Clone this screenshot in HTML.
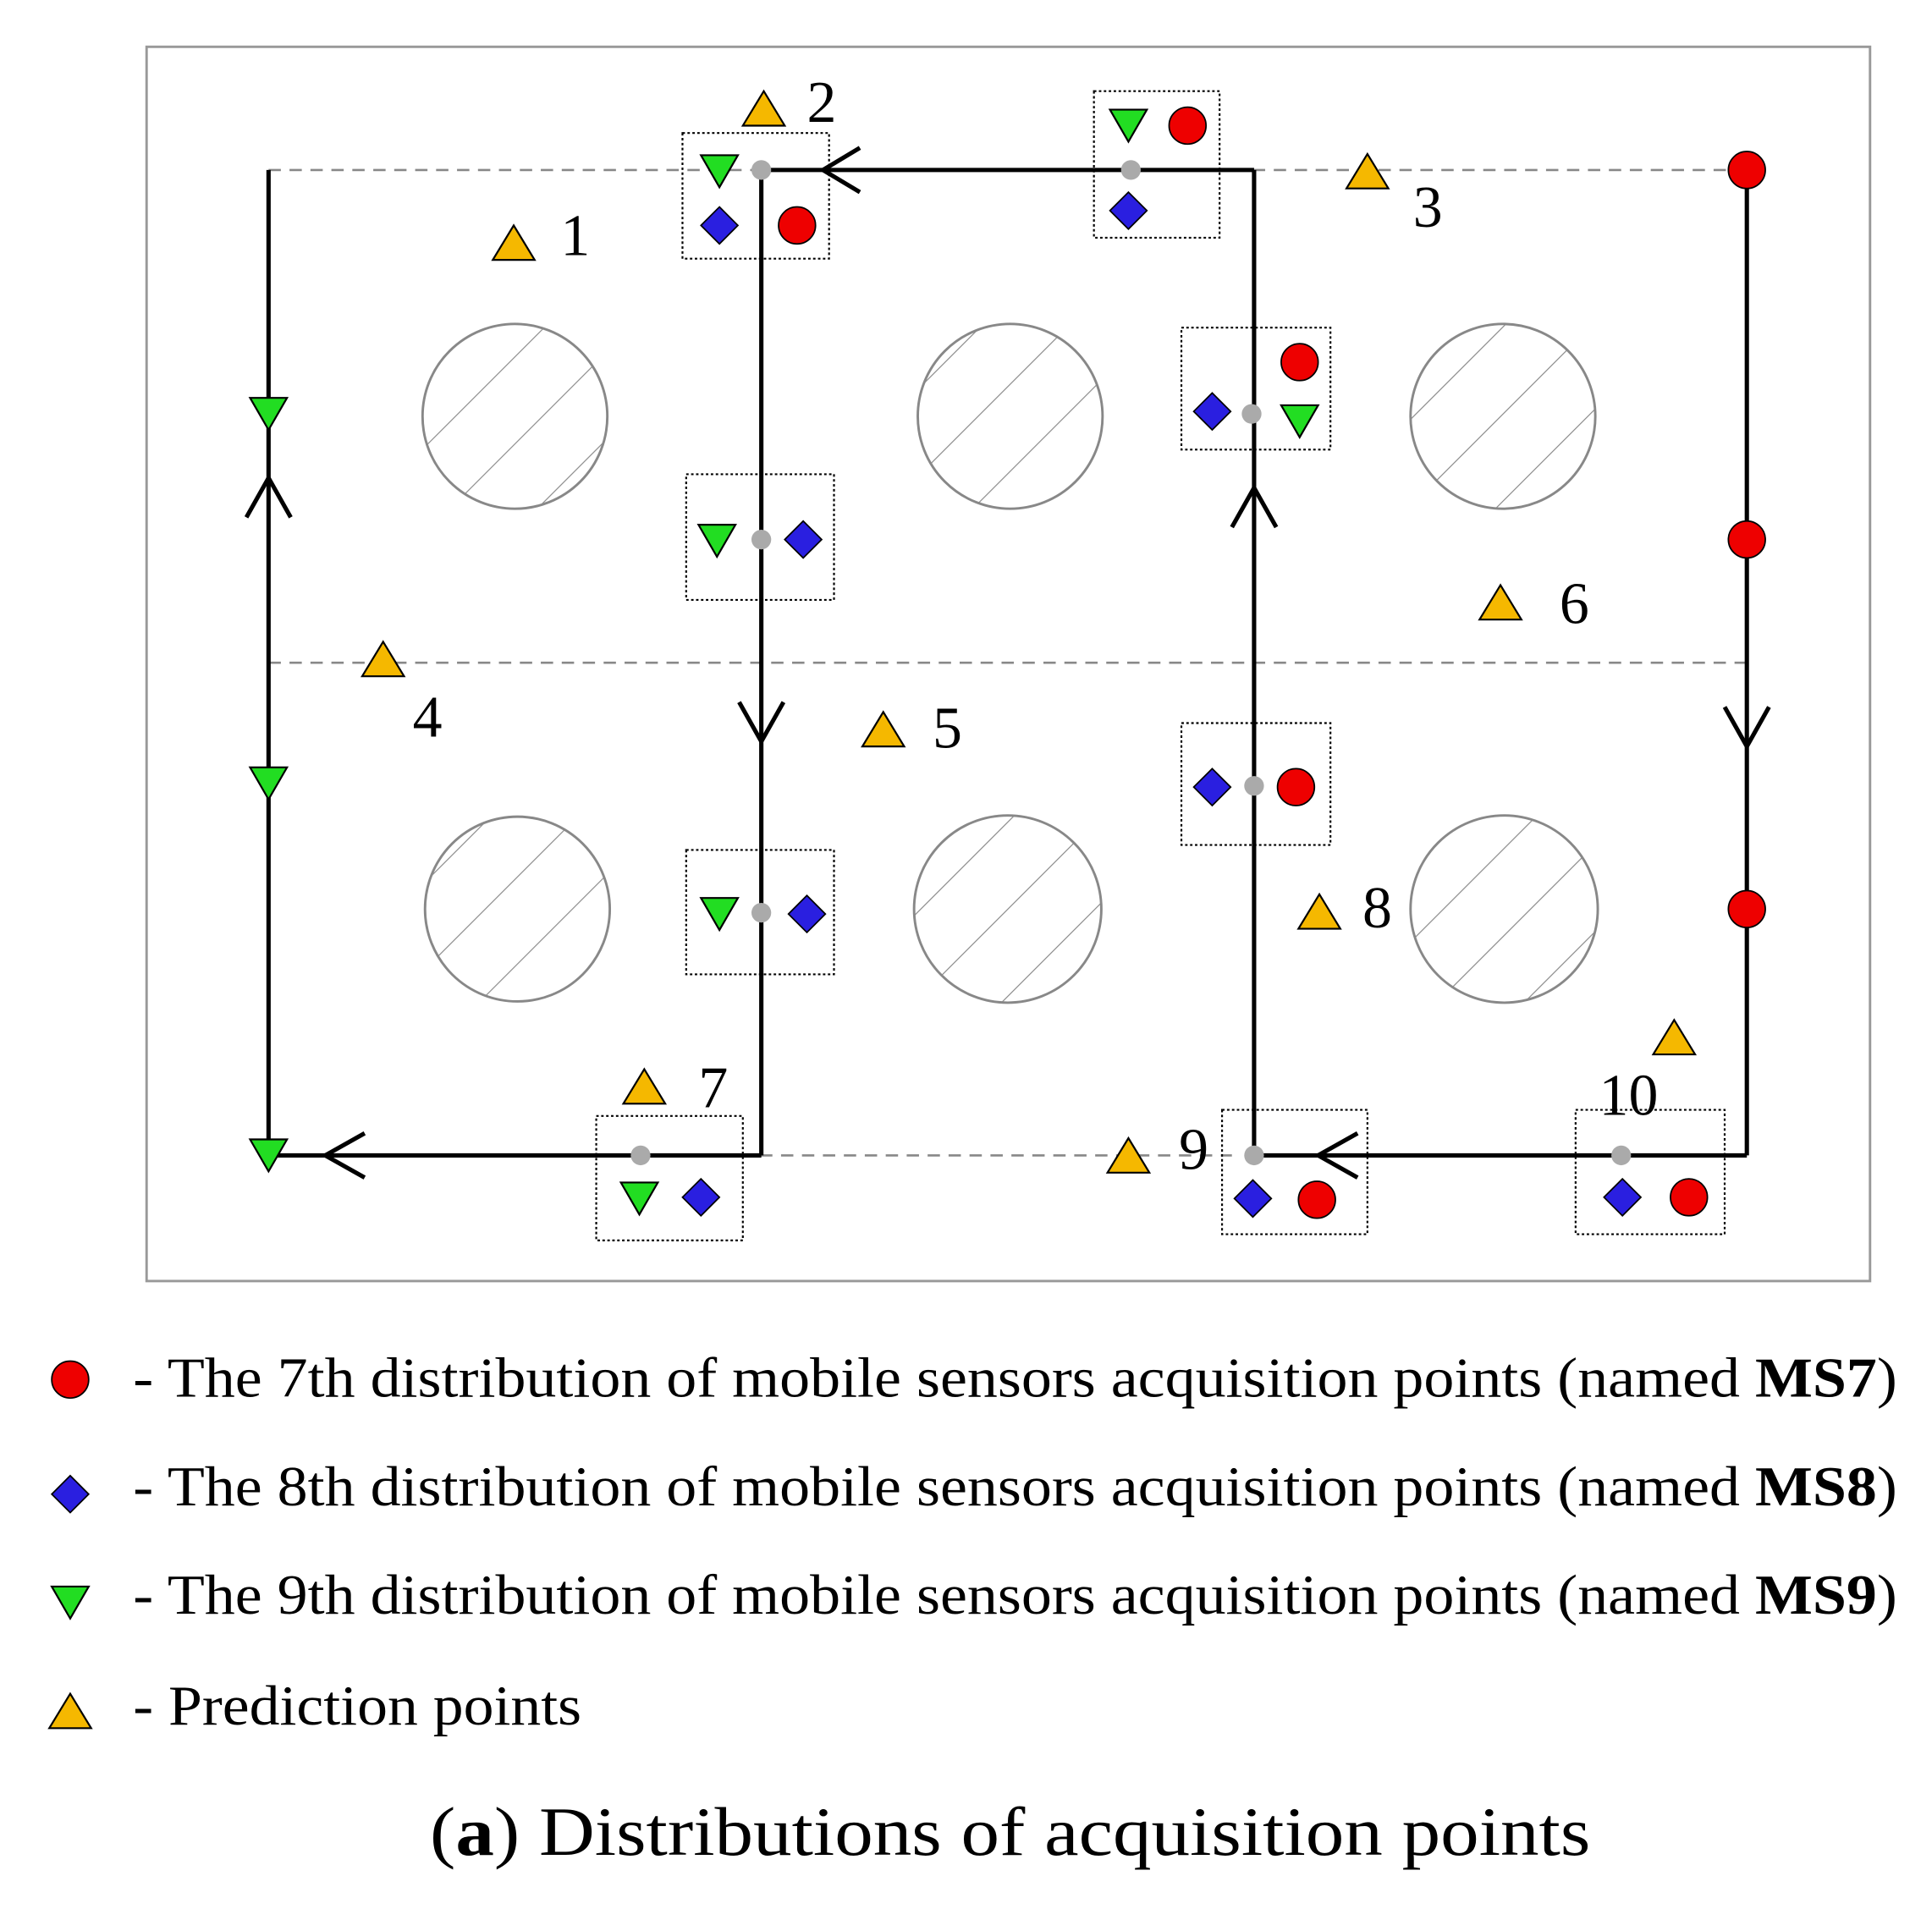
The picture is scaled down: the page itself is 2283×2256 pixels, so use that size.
<!DOCTYPE html>
<html><head><meta charset="utf-8"><style>
html,body{margin:0;padding:0;background:#fff;}
svg{display:block;}
text{font-family:"Liberation Serif",serif;fill:#000;}
</style></head><body>
<svg width="2283" height="2256" viewBox="0 0 1568.3 1549.8" preserveAspectRatio="none" xmlns="http://www.w3.org/2000/svg">
<defs>
<pattern id="h" patternUnits="userSpaceOnUse" width="50" height="50" patternTransform="rotate(45)">
<line x1="0" y1="0" x2="0" y2="50" stroke="#888" stroke-width="1.6"/>
</pattern>
<g id="gt"><polygon points="-15,-12 15,-12 0,14" fill="#22dd22" stroke="#000" stroke-width="1.5"/></g>
<g id="bd"><polygon points="0,-15 15,0 0,15 -15,0" fill="#2a1fe0" stroke="#000" stroke-width="1.2"/></g>
<g id="rc"><circle r="15" fill="#ee0000" stroke="#000" stroke-width="1.2"/></g>
<g id="ot"><polygon points="-17,13 17,13 0,-15" fill="#f5b800" stroke="#000" stroke-width="1.5"/></g>
</defs>
<rect x="119" y="38" width="1399" height="1002" fill="none" stroke="#999" stroke-width="2"/>
<g stroke="#888" stroke-width="1.8" stroke-dasharray="10,7" fill="none">
<line x1="218" y1="138" x2="1418" y2="138"/>
<line x1="218" y1="538" x2="1418" y2="538"/>
<line x1="600" y1="938" x2="1000" y2="938"/>
</g>
<g fill="url(#h)" stroke="#888" stroke-width="2">
<circle cx="418" cy="338" r="75"/><circle cx="820" cy="338" r="75"/><circle cx="1220" cy="338" r="75"/>
<circle cx="420" cy="738" r="75"/><circle cx="818" cy="738" r="76"/><circle cx="1221" cy="738" r="76"/>
</g>
<g stroke="#000" stroke-width="3.5" fill="none">
<line x1="218" y1="138" x2="218" y2="938"/>
<line x1="218" y1="938" x2="618" y2="938"/>
<line x1="618" y1="138" x2="618" y2="938"/>
<line x1="618" y1="138" x2="1018" y2="138"/>
<line x1="1018" y1="138" x2="1018" y2="938"/>
<line x1="1018" y1="938" x2="1418" y2="938"/>
<line x1="1418" y1="138" x2="1418" y2="938"/>
<polyline points="698,120 668,138 698,156"/>
<polyline points="200,420 218,388 236,420"/>
<polyline points="600,570 618,602 636,570"/>
<polyline points="1000,428 1018,396 1036,428"/>
<polyline points="1400,574 1418,606 1436,574"/>
<polyline points="1102,920 1070,938 1102,956"/>
<polyline points="296,920 264,938 296,956"/>
</g>
<g stroke="#000" stroke-width="1.5" stroke-dasharray="2,2" fill="none">
<rect x="554" y="108" width="119" height="102"/>
<rect x="888" y="74" width="102" height="119"/>
<rect x="959" y="266" width="121" height="99"/>
<rect x="557" y="385" width="120" height="102"/>
<rect x="959" y="587" width="121" height="99"/>
<rect x="557" y="690" width="120" height="101"/>
<rect x="484" y="906" width="119" height="101"/>
<rect x="992" y="901" width="118" height="101"/>
<rect x="1279" y="901" width="121" height="101"/>
</g>
<g fill="#aaa">
<circle cx="618" cy="138" r="8"/><circle cx="918" cy="138" r="8"/><circle cx="1016" cy="336" r="8"/>
<circle cx="618" cy="438" r="8"/><circle cx="1018" cy="638" r="8"/><circle cx="618" cy="741" r="8"/>
<circle cx="520" cy="938" r="8"/><circle cx="1018" cy="938" r="8"/><circle cx="1316" cy="938" r="8"/>
</g>
<use href="#gt" x="584" y="138"/><use href="#gt" x="916" y="101"/><use href="#gt" x="1055" y="341"/>
<use href="#gt" x="582" y="438"/><use href="#gt" x="584" y="741"/><use href="#gt" x="519" y="972"/>
<use href="#gt" x="218" y="335"/><use href="#gt" x="218" y="635"/><use href="#gt" x="218" y="937"/>
<use href="#bd" x="584" y="183"/><use href="#bd" x="916" y="171"/><use href="#bd" x="984" y="334"/>
<use href="#bd" x="652" y="438"/><use href="#bd" x="655" y="742"/><use href="#bd" x="569" y="972"/>
<use href="#bd" x="984" y="639"/><use href="#bd" x="1017" y="973"/><use href="#bd" x="1317" y="972"/>
<use href="#rc" x="647" y="183"/><use href="#rc" x="964" y="102"/><use href="#rc" x="1055" y="294"/>
<use href="#rc" x="1052" y="639"/><use href="#rc" x="1069" y="974"/><use href="#rc" x="1371" y="972"/>
<use href="#rc" x="1418" y="138"/><use href="#rc" x="1418" y="438"/><use href="#rc" x="1418" y="738"/>
<use href="#ot" x="620" y="89"/><use href="#ot" x="417" y="198"/><use href="#ot" x="1110" y="140"/>
<use href="#ot" x="311" y="536"/><use href="#ot" x="717" y="593"/><use href="#ot" x="1218" y="490"/>
<use href="#ot" x="523" y="883"/><use href="#ot" x="1071" y="741"/><use href="#ot" x="916" y="939"/>
<use href="#ot" x="1359" y="843"/>
<g font-size="48">
<text x="655" y="99">2</text><text x="455" y="207">1</text><text x="1147" y="184">3</text>
<text x="335" y="598">4</text><text x="757" y="607">5</text><text x="1266" y="506">6</text>
<text x="567" y="899">7</text><text x="1106" y="753">8</text><text x="957" y="949">9</text>
<text x="1298" y="905">10</text>
</g>
<use href="#rc" x="57" y="1120"/>
<use href="#bd" x="57" y="1213"/>
<g transform="translate(57,1300)"><polygon points="-15,-12 15,-12 0,14" fill="#22dd22" stroke="#000" stroke-width="1.5"/></g>
<use href="#ot" x="57" y="1390"/>
<g font-size="46">
<text x="108" y="1134" textLength="1432" lengthAdjust="spacingAndGlyphs">- The 7th distribution of mobile sensors acquisition points (named <tspan font-weight="bold">MS7</tspan>)</text>
<text x="108" y="1222" textLength="1432" lengthAdjust="spacingAndGlyphs">- The 8th distribution of mobile sensors acquisition points (named <tspan font-weight="bold">MS8</tspan>)</text>
<text x="108" y="1310" textLength="1432" lengthAdjust="spacingAndGlyphs">- The 9th distribution of mobile sensors acquisition points (named <tspan font-weight="bold">MS9</tspan>)</text>
<text x="108" y="1400" textLength="364" lengthAdjust="spacingAndGlyphs">- Prediction points</text>
</g>
<text x="349" y="1506" font-size="56" textLength="942" lengthAdjust="spacingAndGlyphs">(<tspan font-weight="bold">a</tspan>) Distributions of acquisition points</text>
</svg>
</body></html>
